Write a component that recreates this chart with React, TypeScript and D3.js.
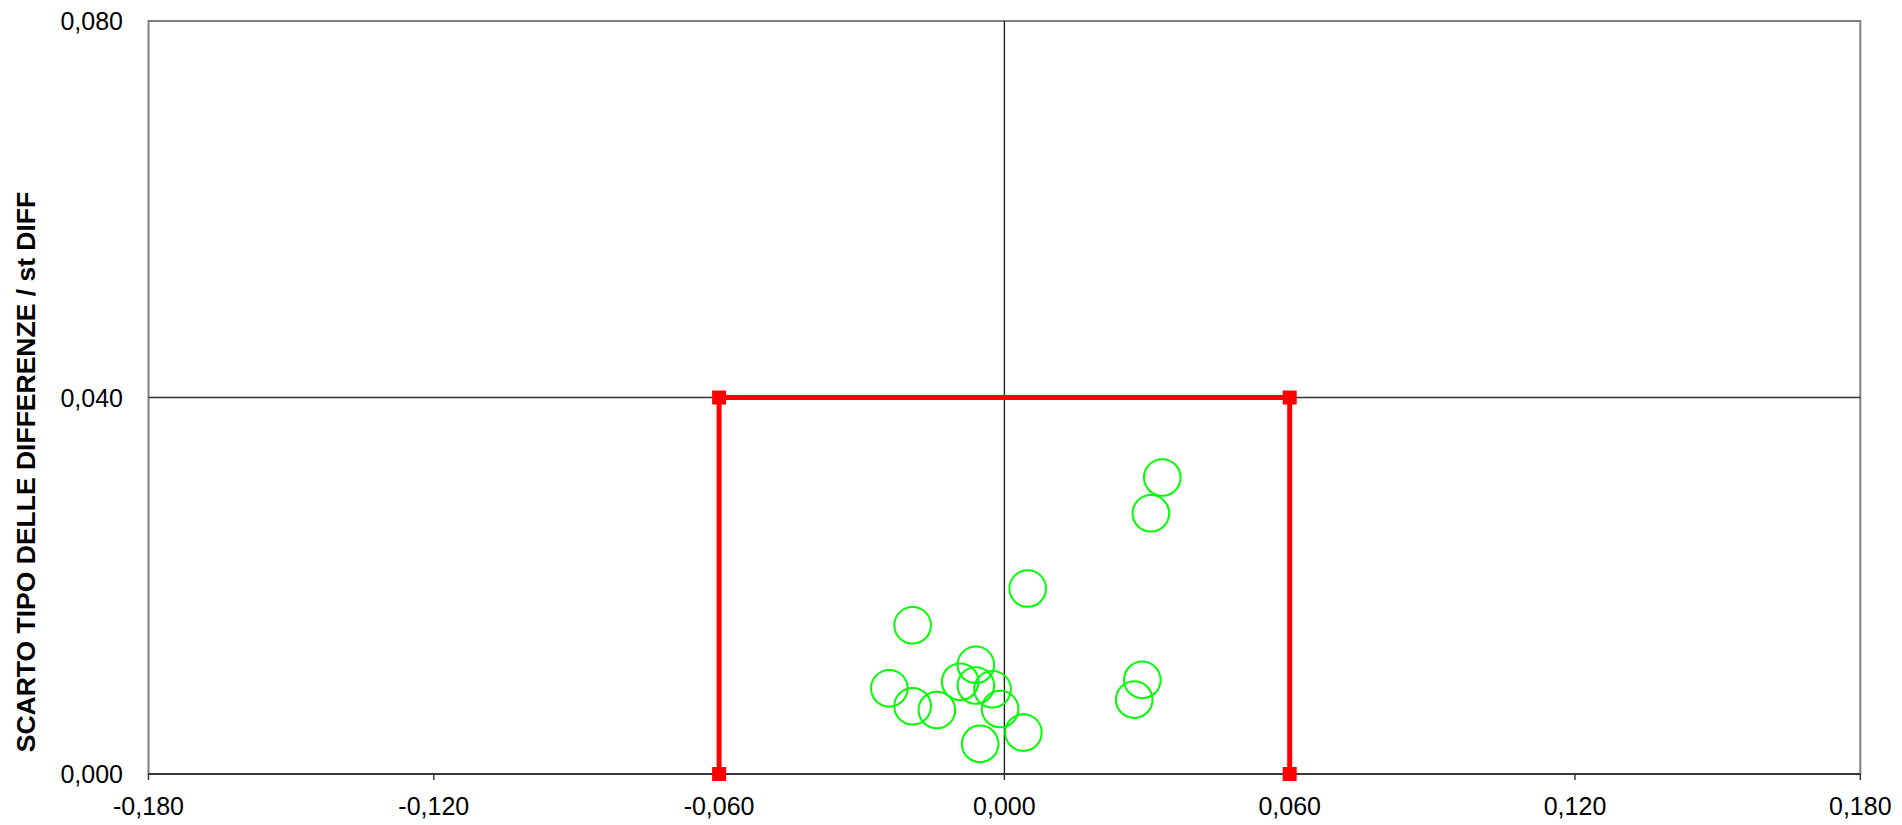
import React from "react";
import * as d3 from "d3";

const xTicks = [-0.18, -0.12, -0.06, 0, 0.06, 0.12, 0.18];
const yTicks = [0, 0.04, 0.08];
const limitX = [-0.06, -0.06, 0.06, 0.06];
const limitY = [0, 0.04, 0.04, 0];
const meanDiff = [0.0049, -0.0193, -0.006, -0.0093, -0.006, -0.0025, -0.0242, -0.0193, -0.0142, -0.0009, 0.004, -0.0051, 0.029, 0.0273, 0.0332, 0.0308];
const stDiff = [0.0197, 0.0158, 0.0116, 0.0098, 0.0094, 0.009, 0.0091, 0.0072, 0.0068, 0.0069, 0.0044, 0.0032, 0.01, 0.0079, 0.0315, 0.0277];
const yTitle = "SCARTO TIPO DELLE DIFFERENZE / st DIFF";

const W = 1902;
const H = 825;
const left = 148.5;
const right = 1860.3;
const top = 21;
const bottom = 774;

const locale = d3.formatLocale({ decimal: ",", thousands: ".", grouping: [3], currency: ["", "€"], minus: "-" });
const fmt = locale.format(".3f");

export default function App() {
  const x = d3.scaleLinear().domain([-0.18, 0.18]).range([left, right]);
  const y = d3.scaleLinear().domain([0, 0.08]).range([bottom, top]);
  const limitPts: [number, number][] = limitX.map((v, i) => [v, limitY[i]]);
  const line = d3.line<[number, number]>().x((d) => x(d[0])).y((d) => y(d[1]));
  const font = "'Liberation Sans', Arial, sans-serif";
  const ms = 14;
  return (
    <svg width={W} height={H} style={{ position: "fixed", left: 0, top: 0, background: "#fff" }} fontFamily={font}>
      <rect x={0} y={0} width={W} height={H} fill="#fff" />
      {/* plot border */}
      <rect x={left} y={top} width={right - left} height={bottom - top} fill="none" stroke="#808080" strokeWidth={2} />
      {/* gridlines */}
      {yTicks.filter((t) => t > 0 && t < 0.08).map((t) => (
        <line key={"g" + t} x1={left} x2={right} y1={y(t)} y2={y(t)} stroke="#333" strokeWidth={1.3} />
      ))}
      {/* vertical axis at x=0 */}
      <line x1={x(0)} x2={x(0)} y1={top} y2={bottom} stroke="#222" strokeWidth={1.4} />
      {/* x axis line */}
      <line x1={left} x2={right} y1={bottom} y2={bottom} stroke="#222" strokeWidth={1.6} />
      {xTicks.map((t) => (
        <g key={"x" + t}>
          <line x1={x(t)} x2={x(t)} y1={bottom} y2={bottom + 6} stroke="#222" strokeWidth={1.3} />
          <text x={x(t)} y={815} textAnchor="middle" fontSize={25} fill="#000">{fmt(t)}</text>
        </g>
      ))}
      {yTicks.map((t) => (
        <text key={"y" + t} x={123} y={y(t) + 9} textAnchor="end" fontSize={25} fill="#000">{fmt(t)}</text>
      ))}
      <text transform={`translate(35,472) rotate(-90)`} textAnchor="middle" fontSize={26.5} fontWeight="bold" fill="#000">{yTitle}</text>
      {/* limit box */}
      <path d={line(limitPts) || ""} fill="none" stroke="#ff0000" strokeWidth={5} />
      {limitPts.map((p, i) => (
        <rect key={"m" + i} x={x(p[0]) - ms / 2} y={y(p[1]) - ms / 2} width={ms} height={ms} fill="#ff0000" />
      ))}
      {/* points */}
      {meanDiff.map((v, i) => (
        <circle key={"c" + i} cx={x(v)} cy={y(stDiff[i])} r={18.3} fill="none" stroke="#00ff00" strokeWidth={2} />
      ))}
    </svg>
  );
}
